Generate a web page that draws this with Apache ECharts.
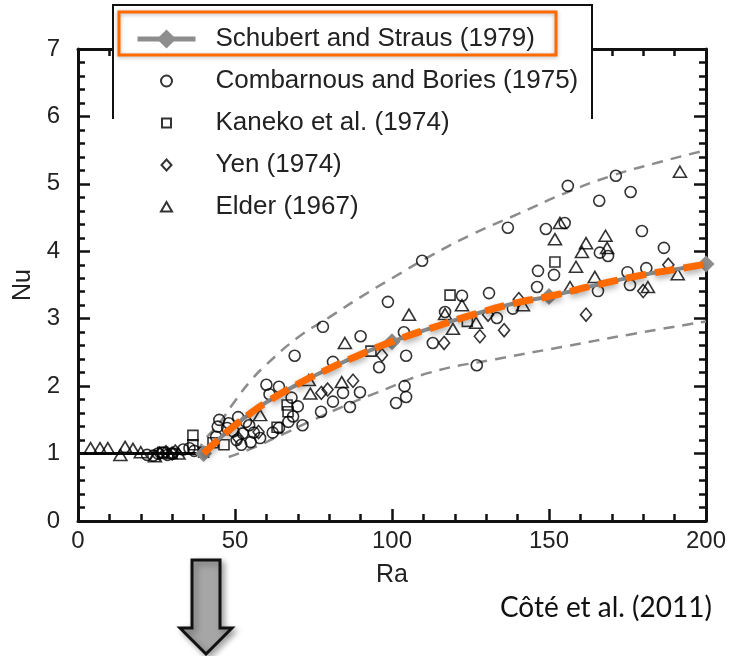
<!DOCTYPE html>
<html>
<head>
<meta charset="utf-8">
<script src="https://cdn.jsdelivr.net/npm/echarts@6/dist/echarts.min.js"></script>
<style>
html,body{margin:0;padding:0;background:#fff;}
#wrap{position:relative;width:729px;height:656px;background:#fff;}
#frame,#chart{position:absolute;left:0;top:0;width:729px;height:656px;}
</style>
</head>
<body>
<div id="wrap"><div id="frame"></div><div id="chart"></div></div>
<script>
// ---- data ----
var xTicks = [0, 50, 100, 150, 200];
var yTicks = [0, 1, 2, 3, 4, 5, 6, 7];

var seriesNames = [
  'Schubert and Straus (1979)',
  'Combarnous and Bories (1975)',
  'Kaneko et al. (1974)',
  'Yen (1974)',
  'Elder (1967)'
];

// Schubert & Straus curve (highlighted by the orange dashed overlay) and its diamond markers
var schubertCurve = [[40, 1.0], [45, 1.22], [50, 1.42], [55, 1.6], [60, 1.76], [70, 2.03], [80, 2.26],
  [90, 2.47], [100, 2.66], [115, 2.9], [125, 3.05], [140, 3.24], [150, 3.33], [165, 3.5], [180, 3.65],
  [190, 3.73], [200, 3.81]];
var schubertDiamondRa = [40, 100, 150, 200];
var onsetLine = [[0, 1.0], [40, 1.0]];

var upperBound = [[38, 1.0], [40, 1.18], [45, 1.45], [50, 1.78], [55, 2.08], [60, 2.32], [70, 2.72],
  [80, 3.02], [90, 3.32], [100, 3.6], [113, 3.95], [125, 4.24], [140, 4.55], [155, 4.86],
  [170, 5.12], [185, 5.32], [200, 5.5]];

var lowerBound = [[48, 0.95], [55, 1.07], [65, 1.28], [75, 1.5], [85, 1.71], [95, 1.9], [112, 2.2],
  [133, 2.4], [154, 2.58], [175, 2.76], [200, 2.96]];

var combarnous = [[22, 0.98], [24, 0.97], [25.5, 1.0], [27, 1.01], [28.5, 0.98], [30, 1.0], [33.5, 1.06],
  [35.5, 1.08], [37, 1.04], [44, 1.25], [44.5, 1.4], [45, 1.5], [47.5, 1.38], [48, 1.45], [49.5, 1.33],
  [50.5, 1.2], [51, 1.54], [52, 1.13], [52.5, 1.3], [53.5, 1.47], [54.5, 1.42], [55, 1.17], [56, 1.31],
  [58, 1.23], [60, 2.02], [61, 1.88], [62, 1.31], [64, 1.99], [64, 1.38], [67, 1.47], [68, 1.83],
  [68.5, 1.55], [69, 2.45], [70, 1.7], [71.5, 1.42], [77.4, 1.62], [78, 2.88], [81.2, 2.36], [81.2, 1.77],
  [84.4, 1.9], [86.6, 1.69], [89.8, 1.91], [90, 2.74], [95.9, 2.28], [98.7, 3.25], [101.3, 1.75],
  [103.8, 2.8], [104, 2.0], [104.5, 1.84], [104.5, 2.45], [109.6, 3.86], [113, 2.64], [116.9, 3.1],
  [122.3, 3.34], [127, 2.31], [130.9, 3.38], [133.4, 3.01], [136.9, 4.35], [138.5, 3.15], [146.2, 3.47],
  [146.5, 3.71], [149, 4.33], [151.6, 3.65], [155, 4.42], [156, 4.97], [165.6, 3.41], [166, 4.75],
  [166.2, 3.98], [168.8, 3.93], [171.3, 5.12], [175, 3.69], [175.8, 3.5], [176, 4.88], [179.6, 4.3],
  [181, 3.75], [186.6, 4.05]];

var kaneko = [[27, 1.02], [30, 1.0], [36.6, 1.27], [36.6, 1.13], [40, 1.02], [43, 1.16], [46.5, 1.13],
  [63.4, 1.39], [66.6, 1.72], [66.9, 1.62], [93.3, 2.52], [118.5, 3.35], [124, 2.96], [151.9, 3.84]];

var yen = [[26, 1.0], [28, 1.02], [30, 1.0], [31, 1.03], [51, 1.23], [57.5, 1.32], [77.5, 1.9],
  [79.5, 1.95], [87.6, 2.08], [96.8, 2.46], [116.6, 2.64], [128, 2.74], [130.6, 3.06], [135.7, 2.83],
  [140.4, 3.29], [161.8, 3.06], [180, 3.41], [188, 3.8]];

var elder = [[4, 1.08], [7, 1.08], [9.5, 1.08], [13.5, 0.98], [15, 1.1], [17.5, 1.07], [20, 1.02],
  [24.5, 0.96], [32, 1.0], [58, 1.57], [73.5, 2.09], [74, 1.89], [84, 2.06], [85, 2.64], [105.4, 3.06],
  [116.9, 3.07], [119.4, 2.85], [122.3, 3.2], [126.8, 2.94], [141.7, 3.2], [151.9, 4.18], [153.5, 4.42],
  [156.7, 3.47], [158.6, 3.77], [160.5, 3.99], [161.8, 4.12], [164.6, 3.62], [168, 4.23], [168.5, 4.05],
  [181.5, 3.47], [191, 3.66], [191.7, 5.18]];

var citation = 'Côté et al. (2011)';

// ---- shared settings ----
var FONT = 'Liberation Sans';
var INK = '#111';
var xMin = xTicks[0], xMax = xTicks[xTicks.length - 1], xStep = xTicks[1] - xTicks[0];
var yMin = yTicks[0], yMax = yTicks[yTicks.length - 1], yStep = yTicks[1] - yTicks[0];

function frameAxis(extra) {
  var a = {
    type: 'value',
    axisLine: {show: true, lineStyle: {color: INK, width: 3}},
    axisTick: {show: true, inside: true, length: 12, lineStyle: {color: INK, width: 2.5}},
    minorTick: {show: true, splitNumber: 5, length: 7, lineStyle: {color: INK, width: 2.5}},
    axisLabel: {show: false},
    splitLine: {show: false}
  };
  for (var k in extra) a[k] = extra[k];
  return a;
}

// ---- layer 1: the tick frame (bottom/left, plus mirrored top/right) ----
var frame = echarts.init(document.getElementById('frame'));
frame.setOption({
  animation: false,
  grid: [
    {left: 78, right: 23, top: 49, bottom: 135},
    {left: 78, right: 23, top: 49, bottom: 135}
  ],
  xAxis: [
    frameAxis({gridIndex: 0, position: 'bottom', min: xMin, max: xMax, interval: xStep}),
    frameAxis({gridIndex: 1, position: 'top', inverse: true, min: xMin, max: xMax, interval: xStep})
  ],
  yAxis: [
    frameAxis({gridIndex: 0, position: 'left', min: yMin, max: yMax, interval: yStep}),
    frameAxis({gridIndex: 1, position: 'right', inverse: true, min: yMin, max: yMax, interval: yStep})
  ],
  series: [
    {name: 'onset', type: 'line', data: onsetLine, symbol: 'none', lineStyle: {color: INK, width: 3}}
  ]
});

// ---- layer 2: labels, data, legend and annotations on the same scales ----
var chart = echarts.init(document.getElementById('chart'));
var markerStyle = {color: 'rgba(0,0,0,0)', borderColor: '#000', borderWidth: 1.6};
var schubertData = schubertCurve.map(function (p) {
  return {value: p, symbol: schubertDiamondRa.indexOf(p[0]) >= 0 ? 'diamond' : 'none'};
});

chart.setOption({
  animation: false,
  backgroundColor: 'transparent',
  textStyle: {fontFamily: FONT},
  grid: {left: 78, right: 23, top: 49, bottom: 135},
  xAxis: {
    type: 'value', min: xMin, max: xMax, interval: xStep,
    axisLine: {show: false}, axisTick: {show: false}, splitLine: {show: false},
    axisLabel: {show: true, fontSize: 24, color: '#222', margin: 8, fontFamily: FONT},
    name: 'Ra', nameLocation: 'middle', nameGap: 42,
    nameTextStyle: {fontSize: 25, color: '#222', fontFamily: FONT}
  },
  yAxis: {
    type: 'value', min: yMin, max: yMax, interval: yStep,
    axisLine: {show: false}, axisTick: {show: false}, splitLine: {show: false},
    axisLabel: {show: true, fontSize: 24, color: '#222', margin: 18, fontFamily: FONT},
    name: 'Nu', nameLocation: 'middle', nameGap: 33, nameRotate: 90,
    nameTextStyle: {fontSize: 25, color: '#222', fontFamily: FONT}
  },
  legend: {
    orient: 'vertical', left: 130, top: 21, itemWidth: 58, itemHeight: 24, itemGap: 16,
    selectedMode: false, z: 6,
    textStyle: {fontSize: 26, color: '#222', fontFamily: FONT, padding: [0, 0, 0, 15]},
    data: [
      {name: seriesNames[0], lineStyle: {width: 5, color: '#8d8d8d'}},
      {name: seriesNames[1], icon: 'path://M0,0M24,24M6.5,12A5.5,5.5,0,1,1,17.5,12A5.5,5.5,0,1,1,6.5,12Z'},
      {name: seriesNames[2], icon: 'path://M0,0M24,24M7.5,7.5L16.5,7.5L16.5,16.5L7.5,16.5Z'},
      {name: seriesNames[3], icon: 'path://M0,0M24,24M12,6.5L17,12L12,17.5L7,12Z'},
      {name: seriesNames[4], icon: 'path://M0,0M24,24M12,7L17.5,16.5L6.5,16.5Z'}
    ]
  },
  graphic: [
    {type: 'rect', z: 1, silent: true, shape: {x: 113, y: 3, width: 479, height: 116}, style: {fill: '#fff'}},
    {type: 'polyline', z: 5, silent: true, shape: {points: [[113, 119], [113, 5], [592, 5], [592, 119]]},
      style: {stroke: INK, lineWidth: 2, fill: null}},
    {type: 'rect', z: 5, silent: true, shape: {x: 119, y: 12, width: 437, height: 43},
      style: {fill: null, stroke: '#ff6a00', lineWidth: 3, shadowBlur: 4, shadowColor: 'rgba(0,0,0,0.3)', shadowOffsetY: 1}},
    {type: 'text', z: 5, silent: true,
      style: {text: citation, x: 712, y: 608, align: 'right', verticalAlign: 'middle', fontSize: 28, fontFamily: 'Lato', fill: INK}},
    {type: 'polygon', z: 5, silent: true,
      shape: {points: [[192, 560], [220, 560], [220, 628], [232, 628], [206, 654], [180, 628], [192, 628]]},
      style: {fill: '#a6a6a6', stroke: INK, lineWidth: 3, shadowBlur: 6, shadowColor: 'rgba(0,0,0,0.35)', shadowOffsetX: 3, shadowOffsetY: 3}}
  ],
  series: [
    {name: 'upper', type: 'line', data: upperBound, smooth: true, symbol: 'none', z: 2,
      lineStyle: {color: '#8c8c8c', width: 2.5, type: [11, 8]}},
    {name: 'lower', type: 'line', data: lowerBound, smooth: true, symbol: 'none', z: 2,
      lineStyle: {color: '#8c8c8c', width: 2.5, type: [11, 8]}},
    {name: seriesNames[1], type: 'scatter', data: combarnous, symbol: 'circle', symbolSize: 11, z: 3, itemStyle: markerStyle},
    {name: seriesNames[2], type: 'scatter', data: kaneko, symbol: 'rect', symbolSize: 10, z: 3, itemStyle: markerStyle},
    {name: seriesNames[3], type: 'scatter', data: yen, symbol: 'diamond', symbolSize: [11, 13], z: 3, itemStyle: markerStyle},
    {name: seriesNames[4], type: 'scatter', data: elder, symbol: 'triangle', symbolSize: [13, 11], z: 3, itemStyle: markerStyle},
    {name: seriesNames[0], type: 'line', data: schubertData, smooth: true, symbol: 'diamond', symbolSize: 17, z: 4,
      lineStyle: {color: '#8d8d8d', width: 4}, itemStyle: {color: '#8d8d8d'}},
    {name: 'highlight', type: 'line', data: schubertCurve, smooth: true, symbol: 'none', z: 5,
      lineStyle: {color: '#ff6a00', width: 7, type: [20, 9], shadowBlur: 6, shadowColor: 'rgba(0,0,0,0.35)', shadowOffsetY: 3}}
  ]
});
</script>
</body>
</html>
